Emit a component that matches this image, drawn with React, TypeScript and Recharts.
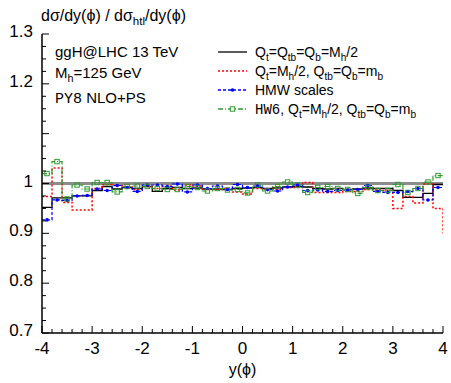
import React from 'react';
import {
  ComposedChart,
  Line,
  Scatter,
  XAxis,
  YAxis,
  ReferenceLine,
} from 'recharts';

// lower edges of the 0.2-wide rapidity bins
const binLow = [
  -4, -3.8, -3.6, -3.4, -3.2, -3, -2.8, -2.6, -2.4, -2.2,
  -2, -1.8, -1.6, -1.4, -1.2, -1, -0.8, -0.6, -0.4, -0.2,
  0, 0.2, 0.4, 0.6, 0.8, 1, 1.2, 1.4, 1.6, 1.8,
  2, 2.2, 2.4, 2.6, 2.8, 3, 3.2, 3.4, 3.6, 3.8,
];
const binWidth = 0.2;
const yMax = 4;

// ratio to the HTL result, per bin
const scalesMh2 = [
  0.952, 0.971, 0.971, 0.975, 0.975, 0.986, 0.994, 0.989, 0.992, 0.990,
  0.994, 0.984, 0.990, 0.992, 0.990, 0.991, 0.989, 0.989, 0.988, 0.990,
  0.991, 0.992, 0.990, 0.991, 0.993, 0.994, 0.993, 0.990, 0.989, 0.990,
  0.988, 0.989, 0.991, 0.990, 0.990, 0.986, 0.972, 0.972, 0.980, 0.998,
];
const scalesMb = [
  0.974, 1.031, 0.962, 0.947, 0.947, 0.990, 0.998, 0.996, 0.994, 0.988,
  0.994, 0.990, 0.995, 0.987, 0.997, 0.995, 0.988, 0.988, 0.990, 0.983,
  0.979, 0.990, 0.989, 0.988, 0.992, 0.992, 1.002, 0.982, 0.982, 0.982,
  0.984, 0.984, 0.988, 0.987, 0.986, 0.950, 0.974, 0.961, 0.999, 0.950,
];
const scalesMbEdge = 0.9;
const scalesHmw = [
  0.927, 0.967, 0.966, 0.975, 0.976, 0.989, 0.986, 0.996, 0.992, 0.984,
  0.997, 0.997, 0.994, 0.999, 0.983, 0.997, 0.990, 0.995, 0.988, 0.998,
  0.992, 0.995, 0.988, 0.985, 0.993, 0.997, 0.986, 0.987, 0.984, 0.986,
  0.987, 0.988, 0.996, 0.984, 0.982, 0.982, 0.984, 0.990, 0.967, 0.992,
];
const hw6Mb = [
  1.020, 1.044, 0.969, 0.997, 0.989, 1.002, 1.002, 0.983, 0.994, 0.995,
  0.994, 0.990, 0.988, 0.988, 0.994, 0.992, 0.985, 0.990, 0.987, 0.988,
  0.981, 0.997, 0.985, 0.994, 1.003, 0.997, 0.982, 0.992, 0.994, 0.990,
  0.988, 0.980, 0.992, 0.986, 0.986, 0.998, 0.982, 0.990, 1.003, 1.016,
];

const xMajor = [-4, -3, -2, -1, 0, 1, 2, 3, 4];
const yMajor = [0.7, 0.8, 0.9, 1, 1.1, 1.2, 1.3];
// 1.1 sits behind the key, so it gets a tick but no label
const yLabelled = [0.7, 0.8, 0.9, 1, 1.2, 1.3];
const xTicks = Array.from({ length: 41 }, (_, i) => Math.round((-4 + i * 0.2) * 10) / 10);
const yTicks = Array.from({ length: 25 }, (_, i) => Math.round((0.7 + i * 0.025) * 1000) / 1000);

const RED = '#ff0000';
const BLUE = '#0000ff';
const GREEN = '#2e9b2e';
const FONT = '"Liberation Sans", Arial, sans-serif';
const MONO = '"Liberation Mono", "DejaVu Sans Mono", monospace';

const steps = (vals: number[], last?: number) => [
  ...binLow.map((x, i) => ({ x, y: vals[i] })),
  { x: yMax, y: last ?? vals[vals.length - 1] },
];
const centers = (vals: number[]) =>
  binLow.map((x, i) => ({ x: Math.round((x + binWidth / 2) * 100) / 100, y: vals[i] }));

const near = (list: number[], v: number) => list.some((m) => Math.abs(m - v) < 1e-6);

function BottomTick({ x, y, payload }: any) {
  const major = near(xMajor, payload.value);
  return (
    <g>
      <line x1={x} x2={x} y1={y} y2={y - (major ? 7 : 4)} stroke="#000" strokeWidth={1} />
      {major && (
        <text x={x} y={y + 21} textAnchor="middle" fontSize={17} fontFamily={FONT} fill="#000">
          {payload.value}
        </text>
      )}
    </g>
  );
}

function TopTick({ x, y, payload }: any) {
  const major = near(xMajor, payload.value);
  return <line x1={x} x2={x} y1={y} y2={y + (major ? 7 : 4)} stroke="#000" strokeWidth={1} />;
}

function LeftTick({ x, y, payload }: any) {
  const v = payload.value;
  const major = near(yMajor, v);
  return (
    <g>
      <line x1={x} x2={x + (major ? 7 : 4)} y1={y} y2={y} stroke="#000" strokeWidth={1} />
      {near(yLabelled, v) && (
        <text x={x - 9} y={y + 3} textAnchor="end" fontSize={17} fontFamily={FONT} fill="#000">
          {Math.abs(v - 1) < 1e-6 ? '1' : v.toFixed(1)}
        </text>
      )}
    </g>
  );
}

function RightTick({ x, y, payload }: any) {
  const major = near(yMajor, payload.value);
  return <line x1={x} x2={x - (major ? 7 : 4)} y1={y} y2={y} stroke="#000" strokeWidth={1} />;
}

type Part = { t: string; sub?: boolean; mono?: boolean };

// text with subscripts, drawn as tspans
function Rich({ x, y, size, parts, anchor }: { x: number; y: number; size: number; parts: Part[]; anchor?: string }) {
  let shifted = false;
  return (
    <text x={x} y={y} fontSize={size} style={{ fontFamily: FONT }} fill="#000" textAnchor={anchor}>
      {parts.map((p, i) => {
        let dy = 0;
        if (p.sub && !shifted) dy = size * 0.25;
        if (!p.sub && shifted) dy = -size * 0.25;
        shifted = !!p.sub;
        return (
          <tspan
            key={i}
            dy={dy}
            fontSize={p.sub ? size * 0.72 : size}
            style={{ fontFamily: p.mono ? MONO : FONT }}
          >
            {p.t}
          </tspan>
        );
      })}
    </text>
  );
}

const legendRows: { color: string; dash?: string; marker?: 'dot' | 'square'; parts: Part[] }[] = [
  {
    color: '#000',
    parts: [
      { t: 'Q' }, { t: 't', sub: true }, { t: '=Q' }, { t: 'tb', sub: true },
      { t: '=Q' }, { t: 'b', sub: true }, { t: '=M' }, { t: 'h', sub: true }, { t: '/2' },
    ],
  },
  {
    color: RED,
    dash: '2 2',
    parts: [
      { t: 'Q' }, { t: 't', sub: true }, { t: '=M' }, { t: 'h', sub: true }, { t: '/2, Q' },
      { t: 'tb', sub: true }, { t: '=Q' }, { t: 'b', sub: true }, { t: '=m' }, { t: 'b', sub: true },
    ],
  },
  { color: BLUE, dash: '3 2', marker: 'dot', parts: [{ t: 'HMW scales' }] },
  {
    color: GREEN,
    dash: '5 2 1 2',
    marker: 'square',
    parts: [
      { t: 'HW6', mono: true }, { t: ', Q' }, { t: 't', sub: true }, { t: '=M' },
      { t: 'h', sub: true }, { t: '/2, Q' }, { t: 'tb', sub: true }, { t: '=Q' },
      { t: 'b', sub: true }, { t: '=m' }, { t: 'b', sub: true },
    ],
  },
];

export default function App() {
  return (
    <div style={{ position: 'fixed', left: 0, top: 0, width: 451, height: 383, background: '#fff' }}>
      <ComposedChart width={451} height={383} margin={{ top: 34, right: 8, left: 0, bottom: 0 }}>
        <XAxis
          xAxisId="bottom"
          type="number"
          dataKey="x"
          domain={[-4, 4]}
          ticks={xTicks}
          interval={0}
          height={50}
          tickSize={0}
          tickMargin={0}
          tick={<BottomTick />}
          axisLine={{ stroke: '#000', strokeWidth: 1.5 }}
          allowDataOverflow
        />
        <XAxis
          xAxisId="top"
          orientation="top"
          type="number"
          dataKey="x"
          domain={[-4, 4]}
          ticks={xTicks}
          interval={0}
          height={0}
          tickSize={0}
          tickMargin={0}
          tick={<TopTick />}
          axisLine={{ stroke: '#000', strokeWidth: 1.5 }}
          allowDataOverflow
        />
        <YAxis
          yAxisId="left"
          type="number"
          domain={[0.7, 1.3]}
          ticks={yTicks}
          interval={0}
          width={42}
          tickSize={0}
          tickMargin={0}
          tick={<LeftTick />}
          axisLine={{ stroke: '#000', strokeWidth: 1.5 }}
          allowDataOverflow
        />
        <YAxis
          yAxisId="right"
          orientation="right"
          type="number"
          domain={[0.7, 1.3]}
          ticks={yTicks}
          interval={0}
          width={0}
          tickSize={0}
          tickMargin={0}
          tick={<RightTick />}
          axisLine={{ stroke: '#000', strokeWidth: 1.5 }}
          allowDataOverflow
        />
        <ReferenceLine xAxisId="bottom" yAxisId="left" y={1} stroke="#8c8c8c" strokeWidth={3} />
        <Line
          xAxisId="bottom"
          yAxisId="left"
          data={steps(scalesMh2)}
          dataKey="y"
          type="stepAfter"
          stroke="#000"
          strokeWidth={1.3}
          dot={false}
          isAnimationActive={false}
        />
        <Line
          xAxisId="bottom"
          yAxisId="left"
          data={steps(scalesMb, scalesMbEdge)}
          dataKey="y"
          type="stepAfter"
          stroke={RED}
          strokeWidth={1.5}
          strokeDasharray="2 2"
          dot={false}
          isAnimationActive={false}
        />
        <Line
          xAxisId="bottom"
          yAxisId="left"
          data={steps(scalesHmw)}
          dataKey="y"
          type="stepAfter"
          stroke={BLUE}
          strokeWidth={1.2}
          strokeDasharray="3 2"
          dot={false}
          isAnimationActive={false}
        />
        <Line
          xAxisId="bottom"
          yAxisId="left"
          data={steps(hw6Mb)}
          dataKey="y"
          type="stepAfter"
          stroke={GREEN}
          strokeWidth={1.2}
          strokeDasharray="5 2 1 2"
          dot={false}
          isAnimationActive={false}
        />
        <Scatter
          xAxisId="bottom"
          yAxisId="left"
          data={centers(scalesHmw)}
          dataKey="y"
          isAnimationActive={false}
          shape={(p: any) => <circle cx={p.cx} cy={p.cy} r={1.8} fill={BLUE} />}
        />
        <Scatter
          xAxisId="bottom"
          yAxisId="left"
          data={centers(hw6Mb)}
          dataKey="y"
          isAnimationActive={false}
          shape={(p: any) => (
            <rect x={p.cx - 2.2} y={p.cy - 2.2} width={4.4} height={4.4} fill="none" stroke={GREEN} strokeWidth={1} />
          )}
        />
      </ComposedChart>
      <svg
        width={451}
        height={383}
        style={{ position: 'absolute', left: 0, top: 0, pointerEvents: 'none' }}
      >
        <Rich
          x={41}
          y={21}
          size={16}
          parts={[{ t: 'dσ/dy(ϕ) / dσ' }, { t: 'htl', sub: true }, { t: '/dy(ϕ)' }]}
        />
        <Rich x={55} y={57} size={15} parts={[{ t: 'ggH@LHC 13 TeV' }]} />
        <Rich x={55} y={78} size={15} parts={[{ t: 'M' }, { t: 'h', sub: true }, { t: '=125 GeV' }]} />
        <Rich x={55} y={103} size={15} parts={[{ t: 'PY8', mono: true }, { t: ' NLO+PS' }]} />
        {legendRows.map((r, i) => {
          const ly = 52 + i * 19;
          return (
            <g key={i}>
              <line x1={218} x2={247} y1={ly} y2={ly} stroke={r.color} strokeWidth={1.3} strokeDasharray={r.dash} />
              {r.marker === 'dot' && <circle cx={232.5} cy={ly} r={1.8} fill={r.color} />}
              {r.marker === 'square' && (
                <rect x={230.3} y={ly - 2.2} width={4.4} height={4.4} fill="#fff" stroke={r.color} strokeWidth={1} />
              )}
              <Rich x={255} y={ly + 5} size={14} parts={r.parts} />
            </g>
          );
        })}
        <Rich x={242.5} y={375} size={16} anchor="middle" parts={[{ t: 'y(ϕ)' }]} />
      </svg>
    </div>
  );
}
